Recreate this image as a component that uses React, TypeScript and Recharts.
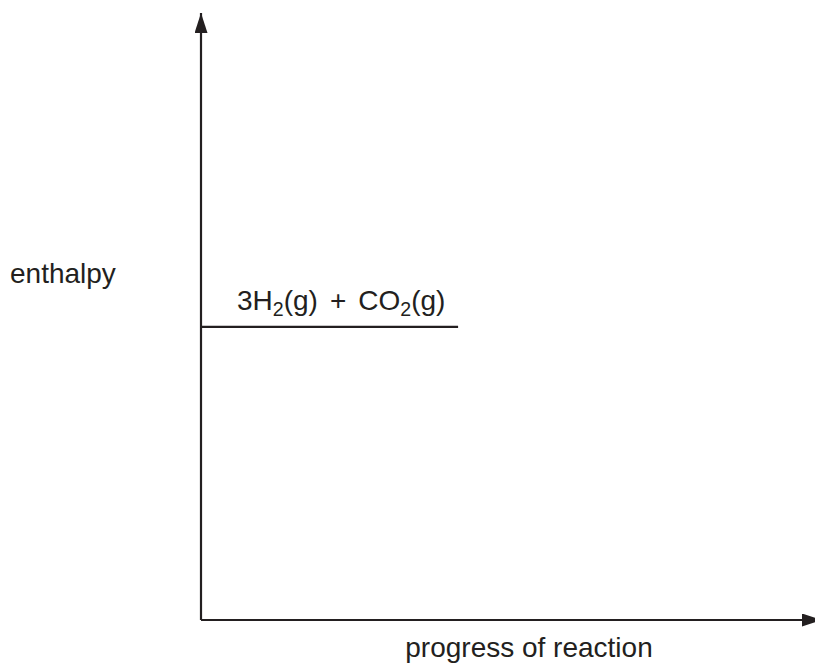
import { ComposedChart, Line, XAxis, YAxis, LabelList } from "recharts";

// enthalpy level for the reactants (arbitrary units, 0-100 scale)
const levelX = [0, 41.4];
const levelY = [48.3, 48.3];
const levelLabel = ["3H", "2", "(g)", "+", "CO", "2", "(g)"];
const xAxisTitle = "progress of reaction";
const yAxisTitle = "enthalpy";

const data = levelX.map((x, i) => ({ x, y: levelY[i] }));

const INK = "#231f20";
const FONT = "'Liberation Sans', Arial, Helvetica, sans-serif";

function LevelLabel(props: any) {
  const { x, y, index } = props;
  if (index !== 0) return null;
  return (
    <text x={x + 36} y={y - 17} fontSize={28} fontFamily={FONT} fill={INK}>
      <tspan>{levelLabel[0]}</tspan>
      <tspan fontSize={19.6} dy={6}>{levelLabel[1]}</tspan>
      <tspan dy={-6}>{levelLabel[2]}</tspan>
      <tspan dx={12}>{levelLabel[3]}</tspan>
      <tspan dx={12}>{levelLabel[4]}</tspan>
      <tspan fontSize={19.6} dy={6}>{levelLabel[5]}</tspan>
      <tspan dy={-6}>{levelLabel[6]}</tspan>
    </text>
  );
}

export default function App() {
  return (
    <div
      style={{
        position: "absolute",
        left: 0,
        top: 0,
        width: 815,
        height: 664,
        overflow: "hidden",
        background: "#fff",
      }}
    >
      <svg width={0} height={0} style={{ position: "absolute" }}>
        <defs>
          <marker
            id="arrow"
            markerUnits="userSpaceOnUse"
            markerWidth={20}
            markerHeight={13}
            refX={20}
            refY={6.5}
            orient="auto-start-reverse"
          >
            <path d="M0,0 L20,6.5 L0,13 z" fill={INK} />
          </marker>
        </defs>
      </svg>
      <ComposedChart
        width={822}
        height={664}
        data={data}
        margin={{ top: 13, right: 0, left: 0, bottom: 0 }}
      >
        <XAxis
          dataKey="x"
          type="number"
          domain={[0, 100]}
          height={44}
          tick={false}
          tickLine={false}
          axisLine={{ stroke: INK, strokeWidth: 2.2, markerEnd: "url(#arrow)" }}
          label={{
            content: (p: any) => {
              const vb = p.viewBox || { x: 201, y: 620 };
              return (
                <text
                  x={vb.x + 328}
                  y={vb.y + 37}
                  textAnchor="middle"
                  fontSize={28}
                  fontFamily={FONT}
                  fill={INK}
                >
                  {xAxisTitle}
                </text>
              );
            },
          }}
        />
        <YAxis
          type="number"
          domain={[0, 100]}
          width={201}
          tick={false}
          tickLine={false}
          axisLine={{ stroke: INK, strokeWidth: 2.2, markerStart: "url(#arrow)" }}
          label={{
            content: (p: any) => {
              const vb = p.viewBox || { x: 0, y: 13 };
              return (
                <text
                  x={vb.x + 10}
                  y={vb.y + 270}
                  fontSize={28}
                  fontFamily={FONT}
                  fill={INK}
                >
                  {yAxisTitle}
                </text>
              );
            },
          }}
        />
        <Line
          dataKey="y"
          stroke={INK}
          strokeWidth={2.2}
          dot={false}
          activeDot={false}
          isAnimationActive={false}
        >
          <LabelList dataKey="y" content={LevelLabel} />
        </Line>
      </ComposedChart>
    </div>
  );
}
